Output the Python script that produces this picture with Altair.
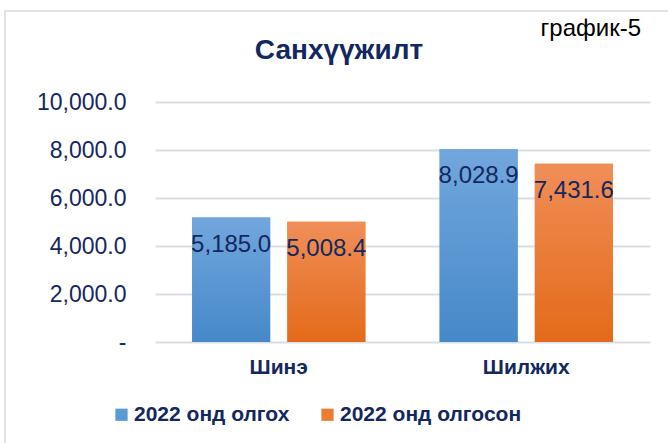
import altair as alt
import pandas as pd

categories = ["Шинэ", "Шилжих"]
series = ["2022 онд олгох", "2022 онд олгосон"]
values_plan = [5185.0, 8028.9]
values_actual = [5008.4, 7431.6]
y_ticks = [0, 2000, 4000, 6000, 8000, 10000]
title_text = "Санхүүжилт"
note_text = "график-5"

rows = []
for i, c in enumerate(categories):
    rows.append({"cat": c, "series": series[0], "value": values_plan[i]})
    rows.append({"cat": c, "series": series[1], "value": values_actual[i]})
df = pd.DataFrame(rows)

NAVY = "#13285e"
BLUE = "#5b9bd5"
ORANGE = "#ed7d31"
GRID = "#d9dde4"
FONT = "Liberation Sans"

x_enc = alt.X("cat:N", sort=categories, title=None,
              scale=alt.Scale(paddingInner=0.3, paddingOuter=0.15),
              axis=alt.Axis(labelFontSize=21, labelFontWeight="bold", labelColor=NAVY,
                            labelFont=FONT, labelAngle=0, domain=False, ticks=False,
                            labelPadding=14, grid=False))
xo_enc = alt.XOffset("series:N", sort=series,
                     scale=alt.Scale(domain=series, paddingInner=0.18, paddingOuter=0))
y_enc = alt.Y("value:Q", title=None,
              scale=alt.Scale(domain=[0, 10000], nice=False),
              axis=alt.Axis(values=y_ticks,
                            labelExpr="datum.value == 0 ? '-' : format(datum.value, ',.1f')",
                            labelFontSize=23, labelColor=NAVY, labelFont=FONT,
                            domain=False, ticks=False, labelPadding=29,
                            gridColor=GRID, gridWidth=2))

base = alt.Chart(df).encode(x=x_enc, xOffset=xo_enc, y=y_enc)

solid = base.mark_bar().encode(
    color=alt.Color("series:N", sort=series,
                    scale=alt.Scale(domain=series, range=[BLUE, ORANGE]),
                    legend=alt.Legend(orient="none", legendX=-44, legendY=302,
                                      direction="horizontal", title=None,
                                      symbolType="square", symbolSize=150,
                                      symbolStrokeWidth=0, labelLimit=0,
                                      labelFontSize=21, labelFontWeight="bold",
                                      labelColor=NAVY, labelFont=FONT,
                                      columnPadding=27, labelOffset=2))
)

grad_blue = base.transform_filter(alt.datum.series == series[0]).mark_bar(
    fill=alt.Gradient(gradient="linear", x1=0, x2=0, y1=0, y2=1,
                      stops=[alt.GradientStop(offset=0, color="#72a7dd"),
                             alt.GradientStop(offset=1, color="#4688c9")]))
grad_orange = base.transform_filter(alt.datum.series == series[1]).mark_bar(
    fill=alt.Gradient(gradient="linear", x1=0, x2=0, y1=0, y2=1,
                      stops=[alt.GradientStop(offset=0, color="#f08e58"),
                             alt.GradientStop(offset=1, color="#e46a19")]))

labels = base.mark_text(dy=27, baseline="middle", align="center", fontSize=24,
                        font=FONT, color=NAVY).encode(
    text=alt.Text("value:Q", format=",.1f"))

title = alt.Chart(pd.DataFrame({"t": [title_text]})).mark_text(
    fontSize=28, fontWeight="bold", font=FONT, color=NAVY,
    align="center", baseline="alphabetic"
).encode(x=alt.value(184), y=alt.value(-43), text="t:N")

note = alt.Chart(pd.DataFrame({"t": [note_text]})).mark_text(
    fontSize=24, font=FONT, color="#000000", align="right", baseline="middle"
).encode(x=alt.value(486), y=alt.value(-73), text="t:N")

border = alt.Chart(pd.DataFrame({"a": [0]})).mark_rect(
    fill="transparent", stroke="#dfe2e7", strokeWidth=2
).encode(x=alt.value(-150), x2=alt.value(530), y=alt.value(-91), y2=alt.value(360))

chart = alt.layer(border, solid, grad_blue, grad_orange, labels, title, note).properties(
    width=495, height=240,
    autosize=alt.AutoSizeParams(type="none"),
    padding={"left": 155, "top": 102, "right": 18, "bottom": 101},
    background="white",
).configure_view(stroke=None)

chart.save("out.html", embed_options={"renderer": "svg", "actions": False})
